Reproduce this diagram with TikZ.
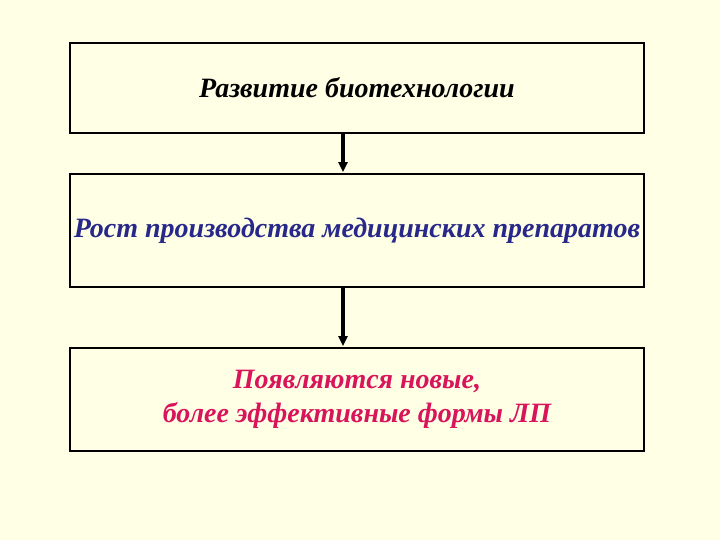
\documentclass[tikz,border=0pt]{standalone}
\usepackage{fontspec}
\setmainfont{Liberation Serif}
\usetikzlibrary{positioning,arrows.meta}
\definecolor{paper}{HTML}{FFFFE6}
\definecolor{navytext}{HTML}{28288A}
\definecolor{crimsontext}{HTML}{D8145A}

\begin{document}
\begin{tikzpicture}[x=1pt,y=1pt,>={Triangle[length=10pt,width=9pt]}]
        \tikzstyle{stage}=[draw=black,line width=1.8pt,minimum width=574pt,inner sep=0pt,align=center,font=\fontsize{28}{34}\selectfont\bfseries\itshape]
        \tikzstyle{link}=[->,line width=3.6pt,shorten >=1pt]

        % Background page
        \fill[paper] (0,0) rectangle (720,540);
        \useasboundingbox (0,0) rectangle (720,540);

        % Draw the three stages
        \node[stage, minimum height=90pt] (B-1) at (357,452) {Развитие биотехнологии};
        \node[stage, minimum height=113pt, text=navytext] (B-2) at (357,309.5) {Рост производства медицинских препаратов};
        \node[stage, minimum height=103pt, text=crimsontext] (B-3) at (357,140.5) {Появляются новые,\\ более эффективные формы ЛП};

        % Connect the stages
        \draw[link] ([xshift=-14pt]B-1.south) -- ([xshift=-14pt]B-2.north);
        \draw[link] ([xshift=-14pt]B-2.south) -- ([xshift=-14pt]B-3.north);
\end{tikzpicture}
\end{document}
